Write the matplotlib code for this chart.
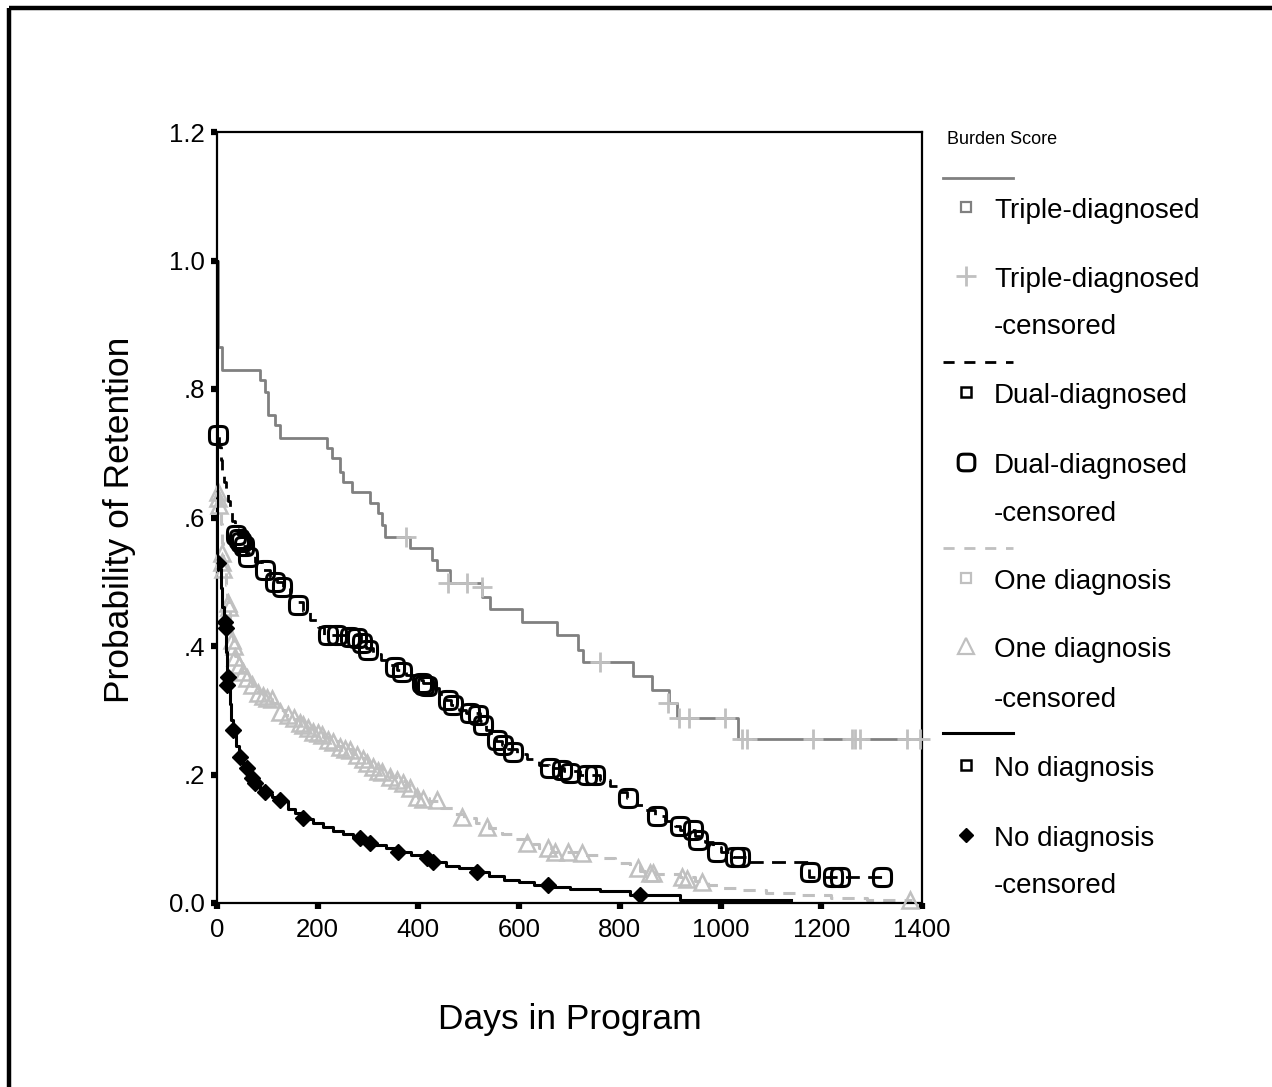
import numpy as np
import matplotlib
matplotlib.use("Agg")
import matplotlib.pyplot as plt
from matplotlib.path import Path

plt.rcParams['font.family'] = ['Liberation Sans', 'DejaVu Sans']

# Kaplan-Meier steps: (day, survival after the drop)
triple_steps = [(0, 1.0), (2, 0.865), (10, 0.83), (85, 0.814), (95, 0.795), (101, 0.76),
                (115, 0.744), (125, 0.724), (218, 0.708), (228, 0.693), (244, 0.671),
                (250, 0.655), (268, 0.64), (304, 0.622), (320, 0.607), (327, 0.588),
                (334, 0.57), (383, 0.553), (427, 0.534), (436, 0.518), (463, 0.498),
                (526, 0.476), (542, 0.458), (605, 0.438), (675, 0.417), (717, 0.394),
                (727, 0.375), (826, 0.353), (863, 0.331), (898, 0.311), (913, 0.288),
                (1035, 0.255), (1400, 0.255)]
triple_cens_days = [375, 459, 496, 526, 760, 896, 918, 938, 1009, 1042, 1052,
                    1183, 1261, 1267, 1277, 1370, 1396]
triple_cens_surv = [0.57, 0.498, 0.498, 0.492, 0.375, 0.311, 0.288, 0.288, 0.288,
                    0.255, 0.255, 0.255, 0.255, 0.255, 0.255, 0.255, 0.255]

dual_steps = [(0, 1.0), (0.5, 0.728), (4, 0.71), (7, 0.69), (10, 0.672), (14, 0.655),
              (18, 0.64), (22, 0.625), (26, 0.61), (30, 0.595), (35, 0.582), (41, 0.572),
              (52, 0.556), (58, 0.545), (75, 0.53), (90, 0.518), (105, 0.508), (120, 0.5),
              (132, 0.49), (145, 0.478), (155, 0.468), (170, 0.455), (185, 0.44),
              (200, 0.43), (212, 0.417), (285, 0.405), (295, 0.397), (310, 0.387),
              (325, 0.378), (340, 0.37), (358, 0.362), (375, 0.355), (395, 0.347),
              (410, 0.342), (425, 0.335), (440, 0.325), (455, 0.316), (465, 0.308),
              (480, 0.3), (495, 0.296), (522, 0.283), (535, 0.27), (545, 0.26),
              (555, 0.252), (565, 0.246), (578, 0.24), (595, 0.232), (615, 0.224),
              (640, 0.215), (660, 0.21), (690, 0.205), (720, 0.2), (760, 0.192),
              (780, 0.182), (800, 0.172), (815, 0.163), (835, 0.152), (850, 0.145),
              (870, 0.136), (890, 0.128), (910, 0.12), (920, 0.114), (950, 0.104),
              (970, 0.095), (985, 0.087), (1000, 0.08), (1025, 0.072), (1055, 0.064),
              (1175, 0.04), (1330, 0.04)]
dual_cens_days = [2, 38, 44, 48, 54, 62, 95, 115, 129, 161, 220, 238, 264, 278, 288,
                  300, 353, 367, 407, 412, 417, 459, 469, 502, 518, 528, 556, 568, 588,
                  661, 685, 701, 735, 751, 817, 873, 919, 945, 955, 993, 1029, 1039,
                  1178, 1223, 1237, 1320]
dual_cens_surv = [0.728, 0.572, 0.566, 0.562, 0.556, 0.539, 0.518, 0.5, 0.492, 0.464,
                  0.417, 0.417, 0.414, 0.413, 0.405, 0.394, 0.367, 0.36, 0.342, 0.34,
                  0.337, 0.316, 0.308, 0.296, 0.293, 0.277, 0.254, 0.246, 0.235, 0.21,
                  0.207, 0.202, 0.199, 0.199, 0.163, 0.135, 0.12, 0.114, 0.098, 0.079,
                  0.072, 0.072, 0.048, 0.04, 0.04, 0.04]

one_steps = [(0, 1.0), (0.5, 0.645), (3, 0.63), (5, 0.615), (7, 0.59), (9, 0.56),
             (11, 0.535), (14, 0.515), (17, 0.495), (20, 0.475), (23, 0.455), (26, 0.435),
             (29, 0.415), (32, 0.4), (36, 0.385), (42, 0.372), (50, 0.36), (60, 0.348),
             (70, 0.338), (82, 0.328), (95, 0.32), (110, 0.312), (120, 0.3), (135, 0.293),
             (152, 0.287), (165, 0.28), (180, 0.272), (195, 0.265), (210, 0.258),
             (225, 0.252), (240, 0.245), (255, 0.24), (270, 0.232), (285, 0.225),
             (300, 0.217), (315, 0.21), (330, 0.203), (345, 0.196), (360, 0.19),
             (375, 0.183), (390, 0.172), (400, 0.163), (420, 0.158), (445, 0.148),
             (470, 0.138), (490, 0.132), (515, 0.124), (540, 0.116), (565, 0.108),
             (590, 0.1), (615, 0.092), (640, 0.086), (665, 0.08), (730, 0.075),
             (760, 0.07), (790, 0.063), (820, 0.057), (840, 0.05), (870, 0.045),
             (920, 0.04), (950, 0.034), (975, 0.028), (1000, 0.024), (1040, 0.02),
             (1090, 0.016), (1150, 0.012), (1220, 0.008), (1290, 0.005), (1380, 0.005)]
one_cens_days = [1, 2, 3, 9, 10, 12, 22, 24, 30, 33, 36, 44, 52, 60, 69, 82, 92, 99,
                 109, 125, 140, 152, 165, 171, 180, 191, 200, 208, 221, 231, 244, 255,
                 264, 278, 290, 298, 310, 320, 327, 344, 357, 370, 383, 397, 410, 436,
                 486, 536, 615, 658, 671, 697, 724, 836, 860, 866, 923, 933, 963, 1376]
one_cens_surv = [0.64, 0.63, 0.62, 0.545, 0.53, 0.52, 0.467, 0.46, 0.41, 0.4, 0.383,
                 0.37, 0.36, 0.35, 0.34, 0.327, 0.322, 0.319, 0.317, 0.297, 0.292,
                 0.288, 0.28, 0.277, 0.272, 0.266, 0.264, 0.261, 0.254, 0.25, 0.243,
                 0.24, 0.238, 0.23, 0.224, 0.218, 0.212, 0.206, 0.204, 0.196, 0.191,
                 0.187, 0.179, 0.165, 0.162, 0.16, 0.134, 0.118, 0.093, 0.085, 0.08,
                 0.08, 0.078, 0.054, 0.047, 0.046, 0.04, 0.037, 0.033, 0.005]

none_steps = [(0, 1.0), (0.5, 0.53), (6, 0.52), (8, 0.49), (10, 0.46), (13, 0.44),
              (16, 0.43), (18, 0.39), (20, 0.35), (22, 0.34), (25, 0.31), (28, 0.285),
              (32, 0.265), (38, 0.245), (44, 0.228), (52, 0.215), (60, 0.205),
              (68, 0.195), (75, 0.186), (85, 0.178), (95, 0.17), (110, 0.165),
              (125, 0.158), (140, 0.147), (155, 0.14), (170, 0.13), (190, 0.124),
              (210, 0.118), (230, 0.112), (250, 0.108), (270, 0.103), (290, 0.097),
              (310, 0.091), (335, 0.086), (360, 0.079), (385, 0.075), (410, 0.069),
              (430, 0.064), (455, 0.058), (480, 0.054), (510, 0.048), (540, 0.042),
              (570, 0.036), (600, 0.032), (630, 0.028), (660, 0.025), (700, 0.022),
              (760, 0.018), (820, 0.013), (870, 0.012), (920, 0.005), (1140, 0.005)]
none_cens_days = [2, 16, 17, 20, 22, 32, 46, 59, 69, 75, 95, 125, 171, 284, 304, 359,
                  417, 429, 516, 657, 840]
none_cens_surv = [0.529, 0.437, 0.428, 0.34, 0.352, 0.269, 0.227, 0.21, 0.195, 0.187,
                  0.173, 0.16, 0.132, 0.101, 0.093, 0.08, 0.07, 0.064, 0.048, 0.028,
                  0.012]

x_ticks = [0, 200, 400, 600, 800, 1000, 1200, 1400]
y_ticks = [0.0, 0.2, 0.4, 0.6, 0.8, 1.0, 1.2]
y_tick_labels = ['0.0', '.2', '.4', '.6', '.8', '1.0', '1.2']

DARK = '#808080'
LIGHT = '#c0c0c0'

# rounded square marker (squircle)
t = np.linspace(0, 2 * np.pi, 81)
ct, st = np.cos(t), np.sin(t)
rsq = Path(np.column_stack([np.sign(ct) * np.abs(ct) ** 0.5,
                            np.sign(st) * np.abs(st) ** 0.5]), closed=True)

W, H = 1272, 1087
fig = plt.figure(figsize=(W / 100, H / 100), dpi=100)
ax = fig.add_axes([217 / W, 1 - 903 / H, 705 / W, 771 / H])


def steps(ax, pts, **kw):
    a = np.array(pts)
    ax.plot(a[:, 0], a[:, 1], drawstyle='steps-post', **kw)


steps(ax, triple_steps, color=DARK, lw=2, zorder=3)
ax.plot(triple_cens_days, triple_cens_surv, ls='none', marker='+', ms=14, mew=2,
        color=LIGHT, zorder=4, clip_on=False)

steps(ax, one_steps, color=LIGHT, lw=2.2, ls=(0, (4, 3)), zorder=2)
ax.plot(one_cens_days, one_cens_surv, ls='none', marker='^', ms=11, mew=1.8,
        mfc='none', mec=LIGHT, zorder=3, clip_on=False)

steps(ax, none_steps, color='black', lw=2.2, zorder=3)
ax.plot(none_cens_days, none_cens_surv, ls='none', marker='D', ms=8.5,
        color='black', zorder=4)

steps(ax, dual_steps, color='black', lw=2, ls=(0, (5, 3)), zorder=4)
ax.plot(dual_cens_days, dual_cens_surv, ls='none', marker=rsq, ms=13, mew=2.2,
        mfc='none', mec='black', zorder=5, clip_on=False)

ax.set_xlim(0, 1400)
ax.set_ylim(0, 1.2)
ax.set_xticks(x_ticks)
ax.set_yticks(y_ticks)
ax.set_yticklabels(y_tick_labels)
for s in ax.spines.values():
    s.set_linewidth(1.6)
ax.tick_params(direction='out', length=4.5, width=4.5, labelsize=18.5)
ax.tick_params(axis='x', pad=6)
ax.tick_params(axis='y', pad=4)

fig.text(570 / W, 1 - 1020 / H, 'Days in Program', fontsize=25.5,
         ha='center', va='center')
fig.text(120 / W, 1 - 520 / H, 'Probability of Retention', fontsize=25.5,
         rotation=90, ha='center', va='center')

# overlay in pixel coordinates for the legend and outer frame
lax = fig.add_axes([0, 0, 1, 1], zorder=-1)
lax.set_xlim(0, W)
lax.set_ylim(H, 0)
lax.axis('off')
lax.plot([9, W], [8, 8], color='black', lw=3.2, solid_capstyle='butt')
lax.plot([9, 9], [8, H], color='black', lw=3.2, solid_capstyle='butt')

lax.text(947, 140, 'Burden Score', fontsize=13, ha='left', va='center')

legend_rows = [
    ('line', 178, dict(color=DARK, lw=2)),
    ('mark', 207, dict(marker='s', ms=7, mew=1.6, mfc='none', mec=DARK), 'Triple-diagnosed'),
    ('mark', 276, dict(marker='+', ms=14, mew=2, color=LIGHT), 'Triple-diagnosed'),
    ('text', 327, '-censored'),
    ('line', 362, dict(color='black', lw=2, ls=(0, (4, 3.5)))),
    ('mark', 392, dict(marker='s', ms=7, mew=1.8, mfc='none', mec='black'), 'Dual-diagnosed'),
    ('mark', 462, dict(marker=rsq, ms=12, mew=2.2, mfc='none', mec='black'), 'Dual-diagnosed'),
    ('text', 514, '-censored'),
    ('line', 548, dict(color=LIGHT, lw=2, ls=(0, (4, 3.5)))),
    ('mark', 578, dict(marker='s', ms=7, mew=1.6, mfc='none', mec=LIGHT), 'One diagnosis'),
    ('mark', 646, dict(marker='^', ms=11, mew=1.6, mfc='none', mec=LIGHT), 'One diagnosis'),
    ('text', 700, '-censored'),
    ('line', 733, dict(color='black', lw=2.2)),
    ('mark', 765, dict(marker='s', ms=7, mew=1.8, mfc='none', mec='black'), 'No diagnosis'),
    ('mark', 835, dict(marker='D', ms=7, color='black'), 'No diagnosis'),
    ('text', 886, '-censored'),
]
for row in legend_rows:
    kind, y = row[0], row[1]
    if kind == 'line':
        lax.plot([943, 1013], [y, y], **row[2])
    elif kind == 'mark':
        lax.plot([966], [y], ls='none', **row[2])
        lax.text(994, y + 4, row[3], fontsize=20, ha='left', va='center')
    else:
        lax.text(994, y, row[2], fontsize=20, ha='left', va='center')

fig.savefig('out.png', dpi=100)
